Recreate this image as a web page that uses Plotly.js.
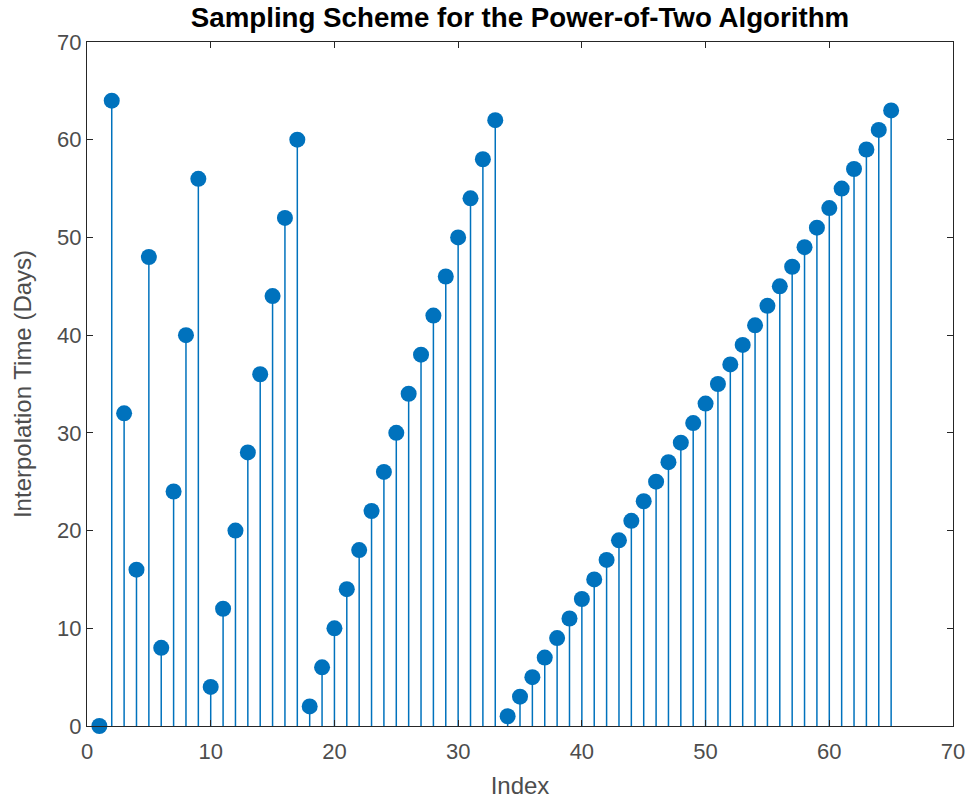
<!DOCTYPE html>
<html>
<head>
<meta charset="utf-8">
<script src="https://cdn.plot.ly/plotly-3.0.1.min.js"></script>
<style>html,body{margin:0;padding:0;background:#fff;}#chart{width:971px;height:799px;}</style>
</head>
<body>
<div id="chart"></div>
<script>
const indexValues = [1,2,3,4,5,6,7,8,9,10,11,12,13,14,15,16,17,18,19,20,21,22,23,24,25,26,27,28,29,30,31,32,33,34,35,36,37,38,39,40,41,42,43,44,45,46,47,48,49,50,51,52,53,54,55,56,57,58,59,60,61,62,63,64,65];
const interpTimes = [0,64,32,16,48,8,24,40,56,4,12,20,28,36,44,52,60,2,6,10,14,18,22,26,30,34,38,42,46,50,54,58,62,1,3,5,7,9,11,13,15,17,19,21,23,25,27,29,31,33,35,37,39,41,43,45,47,49,51,53,55,57,59,61,63];
const xTicks = [0,10,20,30,40,50,60,70];
const yTicks = [0,10,20,30,40,50,60,70];

const stemColor = '#0072BD';
const trace = {
  type: 'scatter',
  mode: 'markers',
  x: indexValues,
  y: interpTimes,
  cliponaxis: false,
  marker: {color: stemColor, size: 16, line: {width: 0}},
  error_y: {
    type: 'data', symmetric: false,
    array: interpTimes.map(() => 0),
    arrayminus: interpTimes,
    width: 0, thickness: 1.5, color: stemColor
  },
  hoverinfo: 'x+y'
};

const fam = 'Liberation Sans, Arial, sans-serif';
const axisCommon = {
  showgrid: false, zeroline: false, showline: true, mirror: 'ticks',
  linecolor: '#262626', linewidth: 1.2,
  ticks: 'inside', ticklen: 6, tickwidth: 1.2, tickcolor: '#262626',
  tickfont: {family: fam, size: 22, color: '#4d4d4d'},
  range: [0, 70], autorange: false
};

const layout = {
  width: 971, height: 799,
  margin: {l: 87, r: 18, t: 42, b: 73},
  paper_bgcolor: '#fff', plot_bgcolor: '#fff',
  showlegend: false,
  title: {
    text: '<b>Sampling Scheme for the Power-of-Two Algorithm</b>',
    font: {family: fam, size: 27.7, color: '#000'},
    x: 0.5, xref: 'paper', xanchor: 'center',
    y: 0.978, yref: 'container', yanchor: 'middle'
  },
  xaxis: Object.assign({}, axisCommon, {
    tickvals: xTicks, ticktext: xTicks.map(String),
    ticklabelstandoff: 5,
    title: {text: 'Index', font: {family: fam, size: 24, color: '#4d4d4d'}, standoff: 17}
  }),
  yaxis: Object.assign({}, axisCommon, {
    tickvals: yTicks, ticktext: yTicks.map(String),
    title: {text: 'Interpolation Time (Days)', font: {family: fam, size: 24, color: '#4d4d4d'}, standoff: 18}
  })
};

Plotly.newPlot('chart', [trace], layout, {displayModeBar: false, staticPlot: true});
</script>
</body>
</html>
